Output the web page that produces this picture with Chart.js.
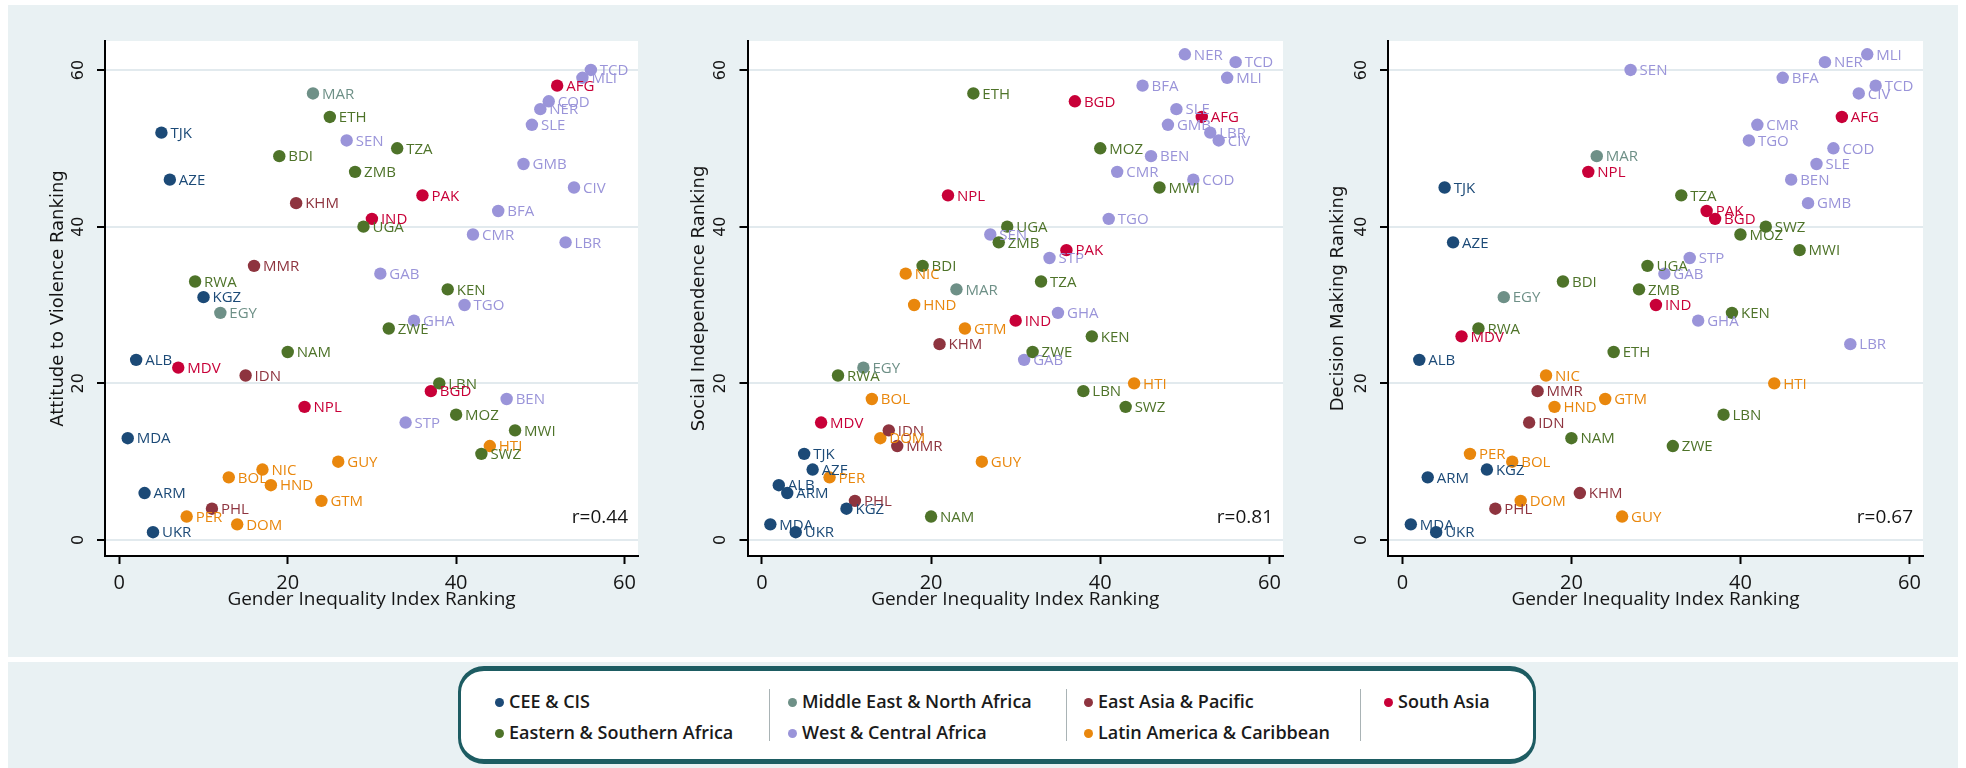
<!DOCTYPE html>
<html>
<head>
<meta charset="utf-8">
<title>Gender Inequality Index Ranking vs. outcome rankings</title>
<script src="https://cdn.jsdelivr.net/npm/chart.js@4.4.1/dist/chart.umd.min.js"></script>
<style>
  html, body { margin: 0; padding: 0; background: #ffffff; width: 1966px; height: 768px; overflow: hidden; }
  .bg { position: absolute; background: #e9f1f3; }
  canvas { position: absolute; }
  #legendBox {
    position: absolute; left: 458px; top: 666px; width: 1078px; height: 98px;
    box-sizing: border-box; border-style: solid; border-color: #1d5c62;
    border-width: 5px 3px; border-radius: 26px; background: #ffffff;
  }
  .lg-item {
    position: absolute; font-family: 'Open Sans', sans-serif; font-weight: 600;
    font-size: 18px; line-height: 24px; color: #1a1a1a; white-space: nowrap;
  }
  .lg-dot { position: absolute; width: 9px; height: 9px; border-radius: 50%; }
  .lg-sep { position: absolute; width: 1px; background: #a9b3b5; }
</style>
</head>
<body>
<div class="bg" style="left:8px;top:5px;width:1950px;height:652px"></div>
<div class="bg" style="left:8px;top:662px;width:1950px;height:106px"></div>
<canvas id="panel1" width="662" height="652" style="left:8px;top:5px"></canvas>
<canvas id="panel2" width="640" height="652" style="left:670px;top:5px"></canvas>
<canvas id="panel3" width="648" height="652" style="left:1310px;top:5px"></canvas>
<div id="legendBox"></div>
<div id="legendItems"></div>

<script>
// ---- data ---------------------------------------------------------------
const countryCodes = [
  'MDA','ALB','ARM','UKR','TJK','AZE','MDV','PER','RWA','KGZ',
  'PHL','EGY','BOL','DOM','IDN','MMR','NIC','HND','BDI','NAM',
  'KHM','NPL','MAR','GTM','ETH','GUY','SEN','ZMB','UGA','IND',
  'GAB','ZWE','TZA','STP','GHA','PAK','BGD','LBN','KEN','MOZ',
  'TGO','CMR','SWZ','HTI','BFA','BEN','MWI','GMB','SLE','NER',
  'COD','AFG','LBR','CIV','MLI','TCD'
];

// 0 CEE & CIS, 1 Eastern & Southern Africa, 2 Middle East & North Africa,
// 3 West & Central Africa, 4 East Asia & Pacific, 5 Latin America & Caribbean, 6 South Asia
const regionIndex = [
  0,0,0,0,0,0,6,5,1,0,
  4,2,5,5,4,4,5,5,1,1,
  4,6,2,5,1,5,3,1,1,6,
  3,1,1,3,3,6,6,1,1,1,
  3,3,1,5,3,3,1,3,3,3,
  3,6,3,3,3,3
];

const giiRanking = [
   1, 2, 3, 4, 5, 6, 7, 8, 9,10,
  11,12,13,14,15,16,17,18,19,20,
  21,22,23,24,25,26,27,28,29,30,
  31,32,33,34,35,36,37,38,39,40,
  41,42,43,44,45,46,47,48,49,50,
  51,52,53,54,55,56
];

const violenceRanking = [
  13,23, 6, 1,52,46,22, 3,33,31,
   4,29, 8, 2,21,35, 9, 7,49,24,
  43,17,57, 5,54,10,51,47,40,41,
  34,27,50,15,28,44,19,20,32,16,
  30,39,11,12,42,18,14,48,53,55,
  56,58,38,45,59,60
];

const independenceRanking = [
   2, 7, 6, 1,11, 9,15, 8,21, 4,
   5,22,18,13,14,12,34,30,35, 3,
  25,44,32,27,57,10,39,38,40,28,
  23,24,33,36,29,37,56,19,26,50,
  41,47,17,20,58,49,45,53,55,62,
  46,54,52,51,59,61
];

const decisionRanking = [
   2,23, 8, 1,45,38,26,11,27, 9,
   4,31,10, 5,15,19,21,17,33,13,
   6,47,49,18,24, 3,60,32,35,30,
  34,12,44,36,28,42,41,16,29,39,
  51,53,40,20,59,46,37,43,48,61,
  50,54,25,57,62,58
];

const regionNames = [
  'CEE & CIS', 'Eastern & Southern Africa', 'Middle East & North Africa',
  'West & Central Africa', 'East Asia & Pacific', 'Latin America & Caribbean', 'South Asia'
];

const yAxisTitles = ['Attitude to Violence Ranking', 'Social Independence Ranking', 'Decision Making Ranking'];
const xAxisTitle = 'Gender Inequality Index Ranking';
const correlationLabels = ['r=0.44', 'r=0.81', 'r=0.67'];
const axisTickValues = [0, 20, 40, 60];

// ---- styling ------------------------------------------------------------
const regionColors = ['#1c4a77', '#4e7329', '#6e9087', '#9a94d9', '#8e343f', '#e9870d', '#c80038'];
const textColor = '#151515';
const gridColor = '#e2eaee';

// per-panel canvas geometry (y-axis box width, right padding, y-title offset)
const panelLayout = [
  { id: 'panel1', yWidth: 97,   padRight: 32,   titleTop: 40 },
  { id: 'panel2', yWidth: 77.5, padRight: 27,   titleTop: 19 },
  { id: 'panel3', yWidth: 78,   padRight: 35,   titleTop: 17.5 }
];

// ---- plugins ------------------------------------------------------------
const plotBackground = {
  id: 'plotBackground',
  beforeDraw(chart) {
    const { ctx, chartArea: a } = chart;
    ctx.save();
    ctx.fillStyle = '#ffffff';
    ctx.fillRect(a.left, a.top, a.right - a.left, a.bottom - a.top);
    ctx.restore();
  }
};

const pointLabels = {
  id: 'pointLabels',
  afterDatasetsDraw(chart) {
    const ctx = chart.ctx;
    ctx.save();
    ctx.font = '15px "Open Sans"';
    ctx.textAlign = 'left';
    ctx.textBaseline = 'middle';
    chart.data.datasets.forEach((ds, i) => {
      const meta = chart.getDatasetMeta(i);
      ctx.fillStyle = ds.backgroundColor;
      meta.data.forEach((el, j) => {
        ctx.fillText(ds.data[j].code, el.x + 9, el.y + 1);
      });
    });
    ctx.restore();
  }
};

const correlationNote = {
  id: 'correlationNote',
  afterDraw(chart, args, opts) {
    const { ctx, chartArea: a } = chart;
    ctx.save();
    ctx.font = '19px "Open Sans"';
    ctx.fillStyle = textColor;
    ctx.textAlign = 'right';
    ctx.textBaseline = 'middle';
    ctx.fillText(opts.text, a.right - 10, a.bottom - 38);
    ctx.restore();
  }
};

// ---- charts -------------------------------------------------------------
function buildDatasets(values) {
  return regionNames.map((name, r) => ({
    label: name,
    data: countryCodes
      .map((code, i) => ({ x: giiRanking[i], y: values[i], code: code, region: regionIndex[i] }))
      .filter(p => p.region === r),
    backgroundColor: regionColors[r],
    borderWidth: 0,
    pointRadius: 6.2,
    pointHoverRadius: 6.2
  }));
}

const panelValues = [violenceRanking, independenceRanking, decisionRanking];

panelValues.forEach((values, p) => {
  const L = panelLayout[p];
  new Chart(document.getElementById(L.id), {
    type: 'scatter',
    data: { datasets: buildDatasets(values) },
    plugins: [plotBackground, pointLabels, correlationNote],
    options: {
      responsive: false,
      animation: false,
      devicePixelRatio: 1,
      events: [],
      layout: { padding: { top: 36, right: L.padRight, left: 0, bottom: 0 } },
      plugins: {
        legend: { display: false },
        tooltip: { enabled: false },
        correlationNote: { text: correlationLabels[p] }
      },
      scales: {
        x: {
          type: 'linear',
          position: 'bottom',
          min: -1.7,
          max: 61.6,
          afterBuildTicks: s => { s.ticks = axisTickValues.map(v => ({ value: v })); },
          afterFit: s => { s.height = 101; },
          grid: { drawOnChartArea: false, drawTicks: true, tickLength: 8, tickColor: '#000', tickWidth: 2 },
          border: { display: true, color: '#000', width: 2 },
          ticks: { font: { family: 'Open Sans', size: 20 }, color: textColor, padding: 7, maxRotation: 0, minRotation: 0 },
          title: {
            display: true, text: xAxisTitle, color: textColor,
            font: { family: 'Open Sans', size: 19 },
            padding: { top: 0, bottom: 46 }
          }
        },
        y: {
          type: 'linear',
          position: 'left',
          min: -2.04,
          max: 63.7,
          afterBuildTicks: s => { s.ticks = axisTickValues.map(v => ({ value: v })); },
          afterFit: s => { s.width = L.yWidth; },
          grid: { color: gridColor, lineWidth: 2, drawTicks: true, tickLength: 8, tickColor: '#000', tickWidth: 2 },
          border: { display: true, color: '#000', width: 2 },
          ticks: {
            font: { family: 'DejaVu Sans', size: 16 }, color: textColor, padding: 8,
            minRotation: 90, maxRotation: 90, crossAlign: 'center'
          },
          title: {
            display: true, text: yAxisTitles[p], color: textColor,
            font: { family: 'DejaVu Sans', size: 18 },
            padding: { top: L.titleTop, bottom: 0 }
          }
        }
      }
    }
  });
});

// ---- shared legend (two rows, filled column by column) -------------------
(function buildLegend() {
  const host = document.getElementById('legendItems');
  const colX = [499, 792, 1088, 1388];
  const rowY = [702, 733];
  regionNames.forEach((name, r) => {
    const col = Math.floor(r / 2), row = r % 2;
    const dot = document.createElement('div');
    dot.className = 'lg-dot';
    dot.style.background = regionColors[r];
    dot.style.left = (colX[col] - 4.5) + 'px';
    dot.style.top = (rowY[row] - 4.5) + 'px';
    host.appendChild(dot);
    const item = document.createElement('div');
    item.className = 'lg-item';
    item.textContent = name;
    item.style.left = (colX[col] + 10) + 'px';
    item.style.top = (rowY[row] - 13) + 'px';
    host.appendChild(item);
  });
  [769, 1066, 1360].forEach(x => {
    const sep = document.createElement('div');
    sep.className = 'lg-sep';
    sep.style.left = x + 'px';
    sep.style.top = '689px';
    sep.style.height = '52px';
    host.appendChild(sep);
  });
})();
</script>
</body>
</html>
